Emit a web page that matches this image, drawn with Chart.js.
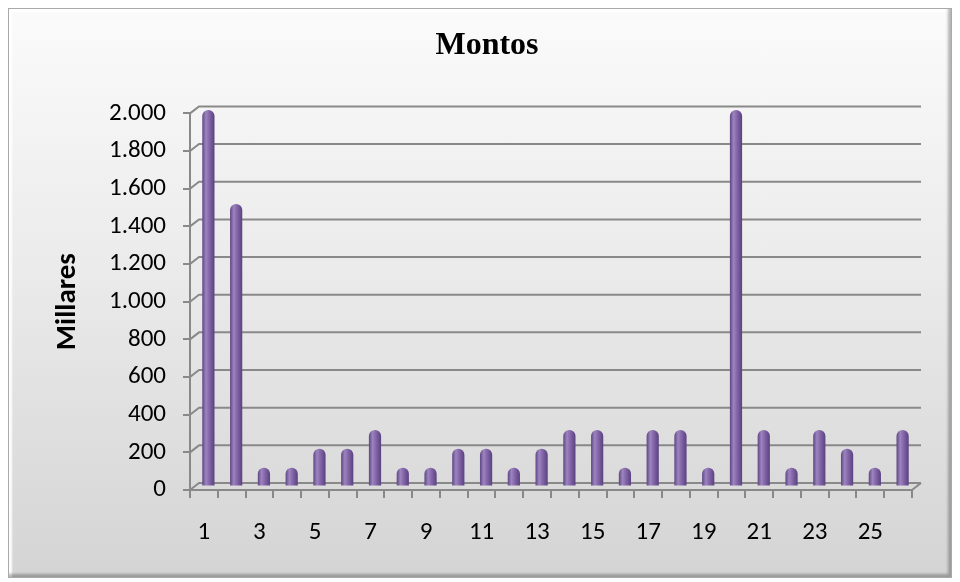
<!DOCTYPE html>
<html>
<head>
<meta charset="utf-8">
<script src="https://cdn.jsdelivr.net/npm/chart.js@4"></script>
<style>
    html, body { margin: 0; padding: 0; background: #ffffff; }
    #wrap { position: relative; width: 960px; height: 582px; }
    #frame {
        position: absolute; left: 8px; top: 8px; width: 944px; height: 570px;
        box-sizing: border-box;
        border: 1px solid #a9a9a9;
        background: linear-gradient(to bottom, #fbfbfb 0%, #ebebeb 45%, #d4d4d4 100%);
        box-shadow: inset -3px -3px 3px rgba(0,0,0,0.28), inset 3px 3px 2px rgba(255,255,255,0.95);
    }
    canvas { position: absolute; left: 0; top: 0; }
</style>
</head>
<body>
<div id="wrap">
    <div id="frame"></div>
    <canvas id="chart" width="960" height="582"></canvas>
</div>
<script>
// --- Data ---
const categories = ['1', '2', '3', '4', '5', '6', '7', '8', '9', '10', '11', '12', '13',
    '14', '15', '16', '17', '18', '19', '20', '21', '22', '23', '24', '25', '26'];
const montos = [2000, 1500, 100, 100, 200, 200, 300, 100, 100, 200, 200, 100, 200,
    300, 300, 100, 300, 300, 100, 2000, 300, 100, 300, 200, 100, 300];
const yMin = 0;
const yMax = 2000;
const yStep = 200;

// --- Look ---
const GRID = '#898989';
const DX = 9;   // depth of the 3D walls
const DY = 7;
const SANS = 'Carlito, "Liberation Sans", Arial, sans-serif';

function fmtMiles(v) {
    return String(v).replace(/\B(?=(\d{3})+(?!\d))/g, '.');
}

function cylinderFill(c) {
    const chart = c.chart;
    if (!chart.chartArea) return '#8064a2';
    const x = chart.scales.x.getPixelForValue(c.dataIndex);
    const g = chart.ctx.createLinearGradient(x - 6, 0, x + 6, 0);
    g.addColorStop(0, '#5f4785');
    g.addColorStop(0.3, '#9c85bf');
    g.addColorStop(0.55, '#8668ab');
    g.addColorStop(1, '#5a4280');
    return g;
}

// back walls + shift the bars to the middle of the depth
const wall3d = {
    id: 'wall3d',
    beforeDatasetsDraw(chart) {
        const { ctx, chartArea: { left, right, bottom }, scales: { y } } = chart;
        ctx.save();
        ctx.strokeStyle = GRID;
        ctx.lineWidth = 2;
        y.ticks.forEach(t => {
            const py = y.getPixelForValue(t.value);
            ctx.beginPath();
            ctx.moveTo(left, py);
            ctx.lineTo(left + DX, py - DY);
            ctx.lineTo(right + DX, py - DY);
            ctx.stroke();
        });
        ctx.beginPath();
        ctx.moveTo(right, bottom);
        ctx.lineTo(right + DX, bottom - DY);
        ctx.stroke();
        ctx.restore();

        ctx.save();
        ctx.translate(DX / 2, -DY / 2);
    },
    afterDatasetsDraw(chart) {
        chart.ctx.restore();
    }
};

new Chart(document.getElementById('chart').getContext('2d'), {
    type: 'bar',
    data: {
        labels: categories,
        datasets: [{
            label: 'Montos',
            data: montos,
            backgroundColor: cylinderFill,
            borderWidth: 0,
            borderRadius: { topLeft: 6, topRight: 6, bottomLeft: 0, bottomRight: 0 },
            borderSkipped: 'bottom',
            barPercentage: 0.44,
            categoryPercentage: 1,
            clip: false
        }]
    },
    options: {
        responsive: false,
        animation: false,
        layout: { padding: { left: 62, right: 48, top: 0, bottom: 0 } },
        plugins: {
            legend: { display: false },
            tooltip: { enabled: false },
            title: {
                display: true,
                text: 'Montos',
                color: '#000000',
                font: { family: '"Liberation Serif", "Times New Roman", serif', size: 32, weight: 'bold' },
                padding: { top: 27, bottom: 48 }
            }
        },
        scales: {
            x: {
                grid: { display: true, drawOnChartArea: false, drawTicks: true, tickLength: 8, color: GRID, lineWidth: 2, offset: true },
                border: { display: true, color: GRID, width: 2 },
                ticks: {
                    autoSkip: false,
                    maxRotation: 0,
                    padding: 20,
                    color: '#000000',
                    font: { family: SANS, size: 25 },
                    callback: (v, i) => (i % 2 === 0 ? categories[i] : '')
                },
                afterFit(scale) { scale.height = 92; }
            },
            y: {
                min: yMin,
                max: yMax,
                ticks: {
                    stepSize: yStep,
                    padding: 17,
                    color: '#000000',
                    font: { family: SANS, size: 25 },
                    callback: v => fmtMiles(v)
                },
                grid: { display: true, drawOnChartArea: false, drawTicks: true, tickLength: 7, color: GRID, lineWidth: 2 },
                border: { display: true, color: GRID, width: 2 },
                title: {
                    display: true,
                    text: 'Millares',
                    color: '#000000',
                    font: { family: SANS, size: 29, weight: 'bold' },
                    padding: { top: -12, bottom: 0 }
                },
                afterFit(scale) { scale.width = 128; }
            }
        }
    },
    plugins: [wall3d]
});
</script>
</body>
</html>
